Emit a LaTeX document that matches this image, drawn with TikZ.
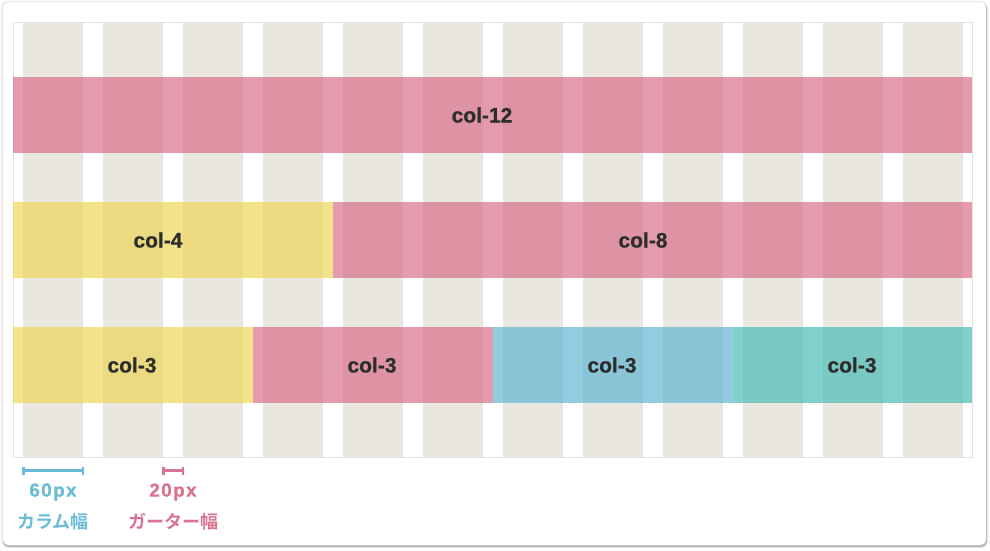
\documentclass[tikz,border=0pt]{standalone}
\usepackage{fontspec}
\setmainfont{Noto Sans CJK JP}[BoldFont=* Bold]
\newfontfamily\latinsans{Liberation Sans}[BoldFeatures={FakeBold=0.6}]
\newfontfamily\latinwide{Liberation Sans}[LetterSpace=7, BoldFeatures={FakeBold=0.5}]
\usetikzlibrary{arrows.meta}
\definecolor{gridbeige}{RGB}{234,231,224}
\definecolor{gridedge}{RGB}{228,226,220}
\definecolor{barpink}{RGB}{215,107,134}
\definecolor{baryellow}{RGB}{236,213,80}
\definecolor{barblue}{RGB}{92,179,211}
\definecolor{barteal}{RGB}{66,186,180}
\definecolor{labeldark}{RGB}{45,45,45}
\definecolor{colblue}{RGB}{106,187,216}
\definecolor{gutpink}{RGB}{217,116,144}

\begin{document}
\begin{tikzpicture}[x=1pt, y=-1pt,
    bar/.style={fill opacity=0.67},
    barlabel/.style={text=labeldark, inner sep=0pt, font=\latinsans\bfseries\fontsize{21}{25}\selectfont},
    pxtext/.style={inner sep=0pt, font=\latinwide\bfseries\fontsize{19}{23}\selectfont},
    legendtext/.style={inner sep=0pt, font=\bfseries\fontsize{18}{22}\selectfont},
    measure/.style={{Bar[width=8pt]}-{Bar[width=8pt]}, line width=2.5pt}
]
\useasboundingbox (0,0) rectangle (990,551);
\fill[white] (0,0) rectangle (990,551);
\fill[black!8, rounded corners=7pt] (1,1) rectangle (988,548);
\fill[black!28, rounded corners=6pt] (3,3) rectangle (987,547);
\fill[white, rounded corners=6pt] (3,2) rectangle (986,545);

\foreach \i in {0,...,11}
  \fill[gridbeige] ({23+80*\i},22) rectangle ({83+80*\i},457);
\draw[gridedge] (13,22) rectangle (972,457);

\fill[bar, barpink] (13,77) rectangle (972,153);
\fill[bar, baryellow] (13,202) rectangle (333,278);
\fill[bar, barpink] (333,202) rectangle (972,278);
\fill[bar, baryellow] (13,327) rectangle (253,403);
\fill[bar, barpink] (253,327) rectangle (493,403);
\fill[bar, barblue] (493,327) rectangle (733,403);
\fill[bar, barteal] (733,327) rectangle (972,403);

\node[barlabel] (c12) at (482,115) {col-12};
\node[barlabel] (c4) at (158,240) {col-4};
\node[barlabel] (c8) at (643,240) {col-8};
\node[barlabel] (c3a) at (132,365) {col-3};
\node[barlabel] (c3b) at (372,365) {col-3};
\node[barlabel] (c3c) at (612,365) {col-3};
\node[barlabel] (c3d) at (852,365) {col-3};

\coordinate (colL) at (22,470.5);
\coordinate (colR) at (84,470.5);
\coordinate (gutL) at (162,470.5);
\coordinate (gutR) at (184,470.5);
\draw[measure, colblue] (colL) -- (colR);
\draw[measure, gutpink] (gutL) -- (gutR);
\node[pxtext, text=colblue] (colpx) at (53,492) {60px};
\node[legendtext, text=colblue] (colname) at (53,522) {カラム幅};
\node[pxtext, text=gutpink] (gutpx) at (173,492) {20px};
\node[legendtext, text=gutpink] (gutname) at (173,522) {ガーター幅};
\end{tikzpicture}
\end{document}
